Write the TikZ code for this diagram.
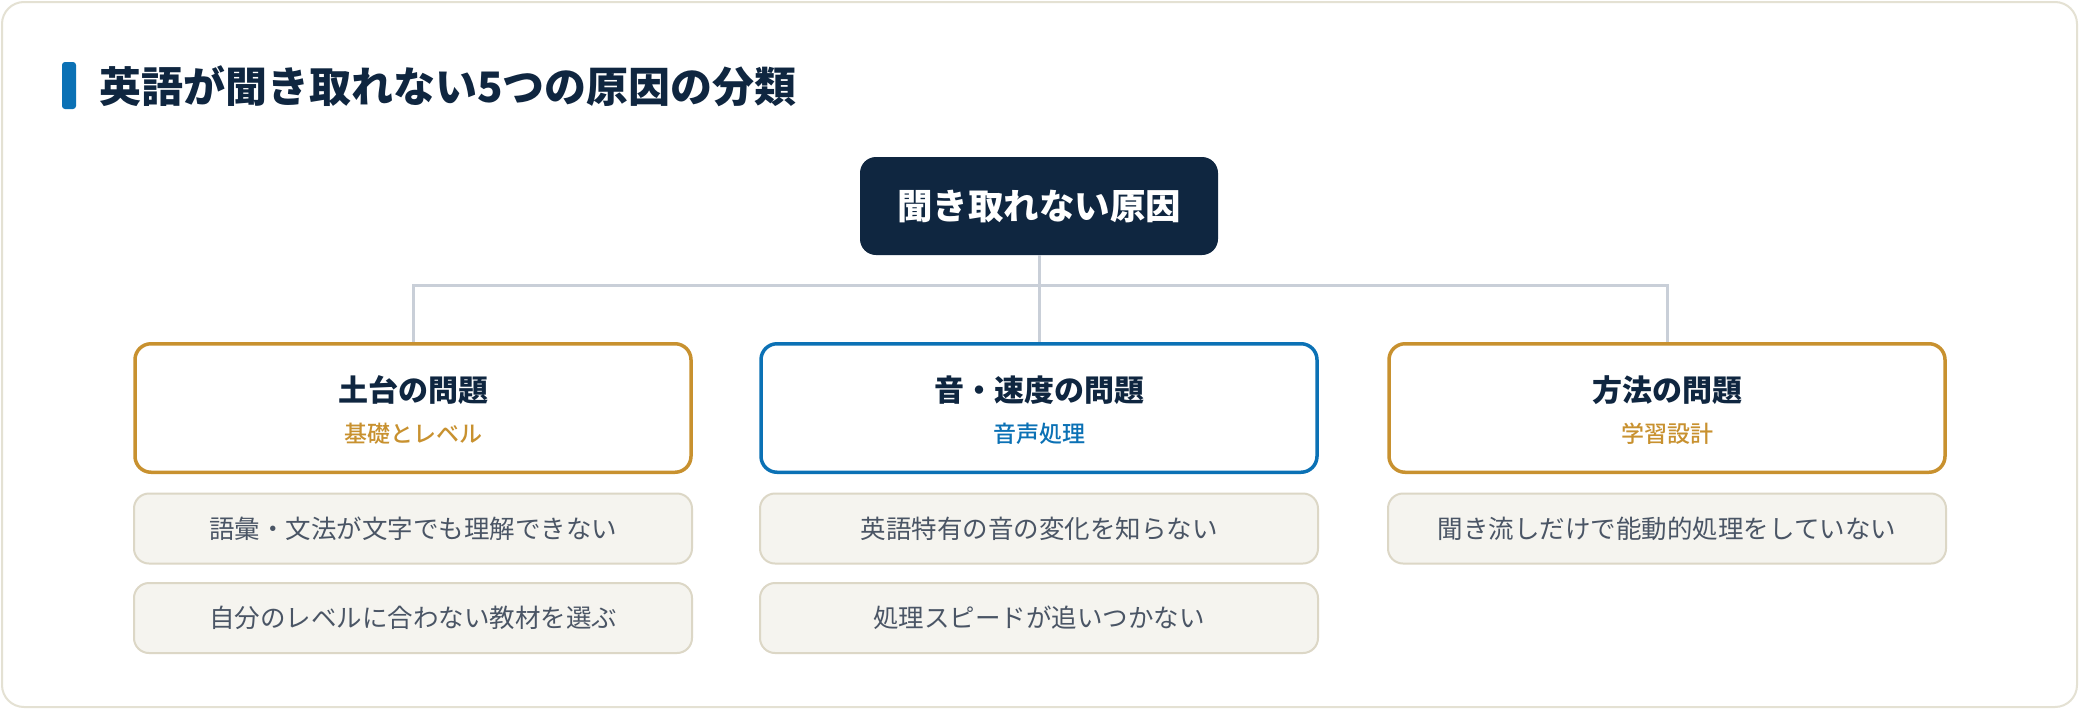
\documentclass[tikz,border=0pt]{standalone}
\usepackage{fontspec}
\setmainfont{Noto Sans CJK JP}
\newfontfamily\blackfont{Noto Sans CJK JP Black}
\newfontfamily\mediumfont{Noto Sans CJK JP Medium}
\definecolor{navy}{HTML}{0F2640}
\definecolor{gold}{HTML}{C8912F}
\definecolor{bluec}{HTML}{0B71B5}
\definecolor{conn}{HTML}{C9CFD8}
\definecolor{itemfill}{HTML}{F5F4EF}
\definecolor{itemline}{HTML}{DCD7C6}
\definecolor{itemtext}{HTML}{4A5565}
\definecolor{cardline}{HTML}{E4E1D3}
\tikzset{
  fs/.style={font=\fontsize{#1pt}{#1pt}\selectfont},
  fsb/.style={font=\bfseries\fontsize{#1pt}{#1pt}\selectfont},
  fsk/.style={font=\blackfont\fontsize{#1pt}{#1pt}\selectfont},
  fsm/.style={font=\mediumfont\fontsize{#1pt}{#1pt}\selectfont},
  txt/.style={inner sep=0pt, anchor=base},
  rootbox/.style={rectangle, rounded corners=16pt, fill=navy, minimum width=358pt, minimum height=98pt, inner sep=0pt},
  catbox/.style={rectangle, rounded corners=16pt, fill=white, line width=3.5pt, minimum width=556pt, minimum height=128.5pt, inner sep=0pt},
  itembox/.style={rectangle, rounded corners=15pt, fill=itemfill, draw=itemline, line width=2pt, minimum width=558pt, minimum height=70pt, inner sep=0pt},
  link/.style={draw=conn, line width=3pt},
  cattitle/.style={txt, fsb=30, text=navy},
  catsub/.style={txt, fsm=23},
  itemtxt/.style={txt, fs=25.5, text=itemtext}
}
\begin{document}
\begin{tikzpicture}[x=1pt, y=-1pt]
\useasboundingbox (0,0) rectangle (2080,710);
\fill[white] (0,0) rectangle (2080,710);
\draw[draw=cardline, line width=2pt, fill=white, rounded corners=22pt] (2,2) rectangle (2077,707);
% title
\fill[bluec, rounded corners=3pt] (62,62) rectangle (76,109);
\node[txt, anchor=base west, fsk=42, text=navy] (title) at (99,102) {英語が聞き取れない5つの原因の分類};
% root
\node[rootbox] (root) at (1039,206) {};
\node[txt, fsb=35.5, text=white] (roott) at (1039,219) {聞き取れない原因};
% categories
\node[catbox, draw=gold] (c1) at (413,408) {};
\node[catbox, draw=bluec] (c2) at (1039,408) {};
\node[catbox, draw=gold] (c3) at (1667,408) {};
\node[cattitle] (c1t) at (413,401) {土台の問題};
\node[catsub, text=gold] (c1s) at (413,442) {基礎とレベル};
\node[cattitle] (c2t) at (1039,401) {音・速度の問題};
\node[catsub, text=bluec] (c2s) at (1039,442) {音声処理};
\node[cattitle] (c3t) at (1667,401) {方法の問題};
\node[catsub, text=gold] (c3s) at (1667,442) {学習設計};
% connectors
\coordinate (j) at (1039,285);
\draw[link] (root.south) -- (j);
\draw[link] (c1.north) |- (j) -| (c3.north);
\draw[link] (j) -- (c2.north);
% items
\node[itembox] (i11) at (413,528.5) {};
\node[itembox] (i12) at (413,618) {};
\node[itembox] (i21) at (1039,528.5) {};
\node[itembox] (i22) at (1039,618) {};
\node[itembox] (i31) at (1667,528.5) {};
\node[itemtxt] (i11t) at (413,538) {語彙・文法が文字でも理解できない};
\node[itemtxt] (i12t) at (413,627.5) {自分のレベルに合わない教材を選ぶ};
\node[itemtxt] (i21t) at (1039,538) {英語特有の音の変化を知らない};
\node[itemtxt] (i22t) at (1039,627.5) {処理スピードが追いつかない};
\node[itemtxt] (i31t) at (1667,538) {聞き流しだけで能動的処理をしていない};
\end{tikzpicture}
\end{document}
